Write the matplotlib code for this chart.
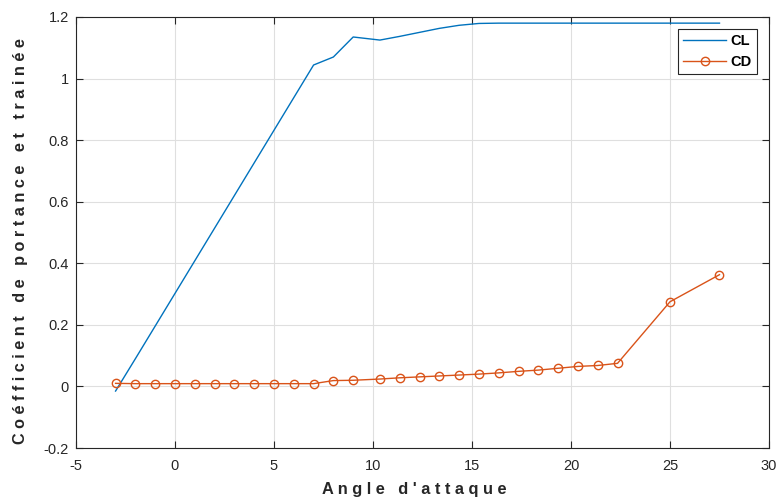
import matplotlib
matplotlib.use("Agg")
import matplotlib.pyplot as plt

angle_cl = [-3, -2, -1, 0, 1, 2, 3, 4, 5, 6, 7, 8, 9, 10.35, 11.35, 12.35, 13.35,
            14.35, 15.35, 16.35, 17.35, 18.35, 19.35, 20.35, 21.35, 22.35, 25, 27.5]
cl = [-0.015, 0.09, 0.196, 0.302, 0.408, 0.514, 0.62, 0.726, 0.832, 0.938, 1.044,
      1.07, 1.135, 1.125, 1.137, 1.150, 1.163, 1.173, 1.179, 1.18, 1.18, 1.18,
      1.18, 1.18, 1.18, 1.18, 1.18, 1.18]

angle_cd = angle_cl
cd = [0.010, 0.009, 0.009, 0.009, 0.009, 0.009, 0.009, 0.009, 0.009, 0.009, 0.009,
      0.019, 0.020, 0.024, 0.028, 0.031, 0.034, 0.037, 0.040, 0.044, 0.049, 0.053,
      0.059, 0.065, 0.068, 0.075, 0.275, 0.363]

xticks = [-5, 0, 5, 10, 15, 20, 25, 30]
yticks = [-0.2, 0, 0.2, 0.4, 0.6, 0.8, 1, 1.2]
ytick_labels = ["-0.2", "0", "0.2", "0.4", "0.6", "0.8", "1", "1.2"]

plt.rcParams['font.family'] = ['Liberation Sans', 'DejaVu Sans']
plt.rcParams['axes.unicode_minus'] = False

def spaced(s):
    return " ".join(w for w in s)

fig = plt.figure(figsize=(7.8, 4.98), dpi=100)
ax = fig.add_axes([0.0974, 0.1004, 0.8885, 0.8655])

ax.plot(angle_cl, cl, color='#0072BD', lw=1.0, label='CL')
ax.plot(angle_cd, cd, color='#D95319', lw=1.0, marker='o', markersize=6,
        markerfacecolor='none', markeredgewidth=1.0, label='CD')

ax.set_xlim(-5, 30)
ax.set_ylim(-0.2, 1.2)
ax.set_xticks(xticks)
ax.set_yticks(yticks)
ax.set_yticklabels(ytick_labels)
ax.grid(True, color='#DFDFDF', lw=0.8)
ax.set_axisbelow(True)
for s in ax.spines.values():
    s.set_color('#262626')
    s.set_linewidth(0.8)
ax.tick_params(direction='in', length=5, width=0.8, colors='#262626',
               labelsize=10.5, top=True, right=True, labelcolor='#262626', pad=5)
ax.tick_params(axis='x', pad=8)

ax.set_xlabel(spaced("Angle d'attaque"), fontsize=11.8, fontweight='bold',
              color='#262626')
ax.set_ylabel(spaced("Coéfficient de portance et trainée"), fontsize=11.7,
              fontweight='bold', color='#262626')
ax.xaxis.set_label_coords(0.488, -0.078)
ax.yaxis.set_label_coords(-0.069, 0.48)

leg = ax.legend(loc='upper right', bbox_to_anchor=(0.983, 0.972), fancybox=False,
                framealpha=1, edgecolor='#262626', borderaxespad=0,
                prop={'weight': 'bold', 'size': 10.5}, handlelength=2.9,
                borderpad=0.35, labelspacing=0.45, handletextpad=0.35)
leg.get_frame().set_linewidth(0.8)

fig.savefig("out.png", dpi=100)
